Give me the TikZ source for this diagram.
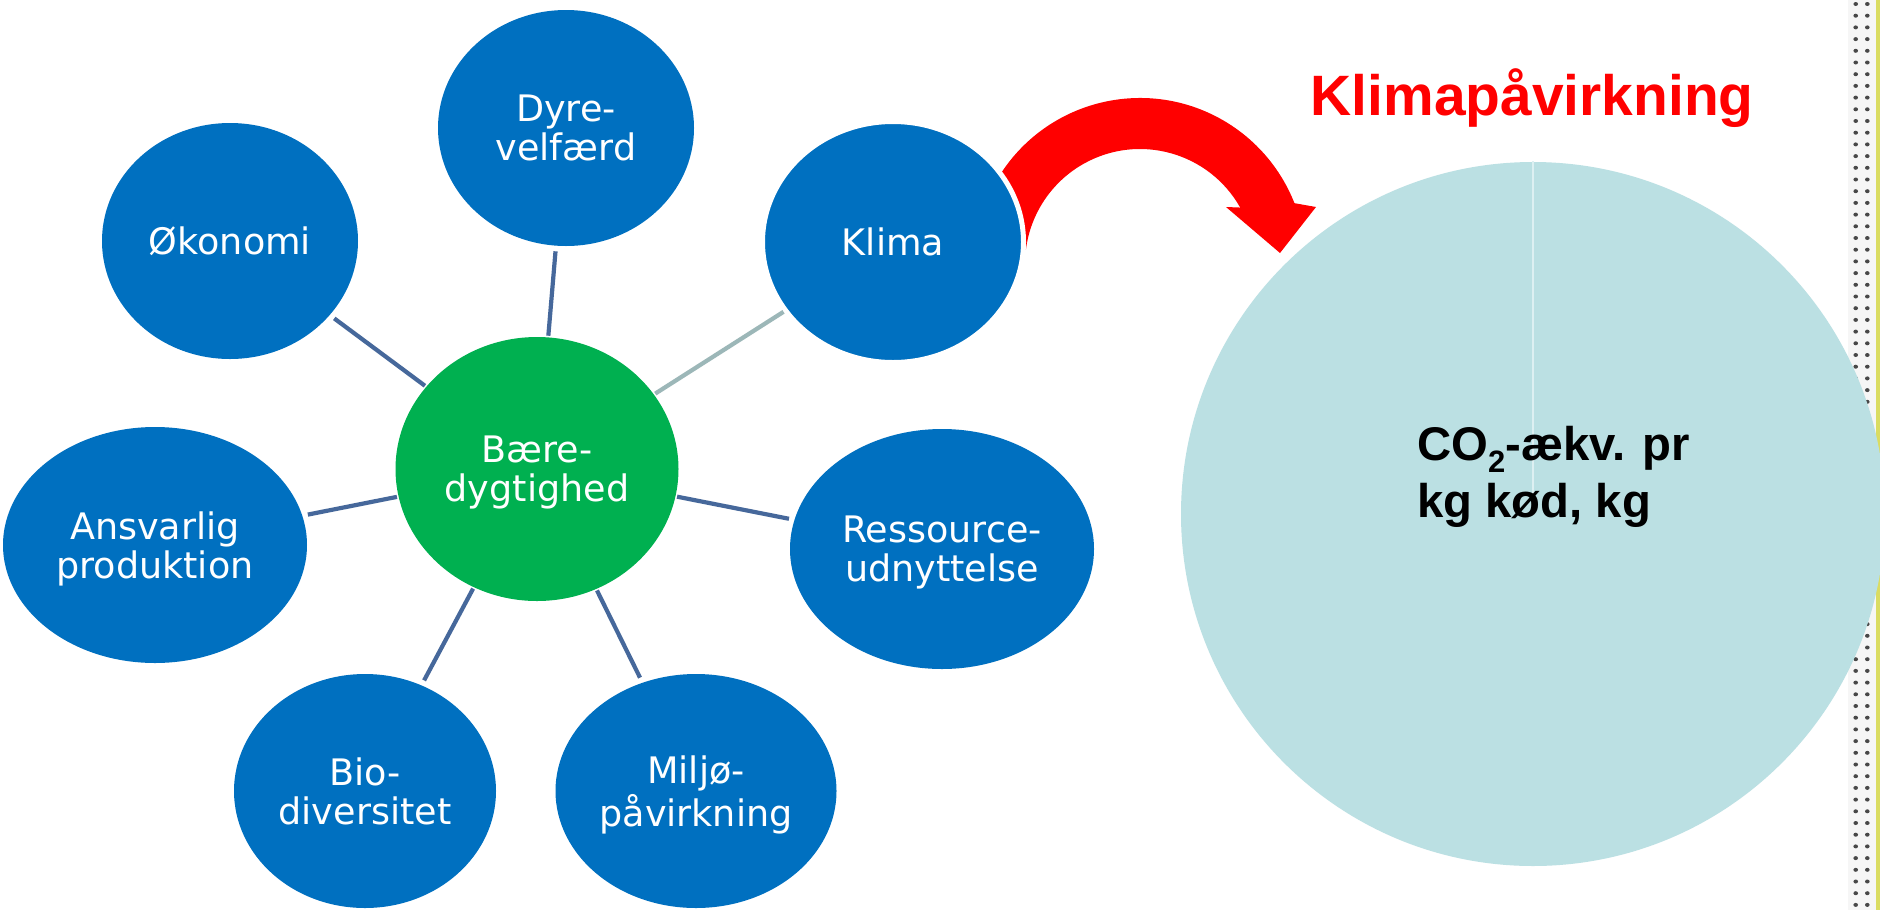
\documentclass[tikz,border=0pt]{standalone}
\usepackage{fontspec}
\setmainfont{DejaVu Sans}
\newfontfamily\arialf{Liberation Sans}
\usetikzlibrary{shapes.geometric}
\definecolor{bubbleblue}{HTML}{0070C0}
\definecolor{centgreen}{HTML}{00B050}
\definecolor{pielight}{HTML}{BBE0E3}
\definecolor{pieline}{HTML}{DDF0F2}
\definecolor{connblue}{HTML}{46689B}
\definecolor{klimaconn}{HTML}{9CB7B8}
\definecolor{arrowred}{HTML}{FF0000}
\definecolor{stripgray}{HTML}{F6F6F6}
\definecolor{stripyellow}{HTML}{DADC62}
\definecolor{dotgray}{HTML}{484848}
\begin{document}
\begin{tikzpicture}[x=0.1mm,y=0.1mm,
  bubble/.style={ellipse, fill=bubbleblue, text=white, inner sep=0pt,
    align=center, text depth=0pt, font=\fontsize{10.39pt}{11.1pt}\selectfont},
  conn/.style={line width=0.42mm, draw=connblue, shorten >=0.5mm, shorten <=0.1mm},
  boldtext/.style={inner sep=0pt, font=\arialf\bfseries}]
\useasboundingbox (0,0) rectangle (1880,910);
\fill[white] (0,0) rectangle (1880,910);
% right dotted strip
\fill[stripgray] (1848,0) rectangle (1876,910);
\fill[stripyellow] (1876,0) rectangle (1879.5,910);
\foreach \k in {0,...,77}{
  \fill[dotgray] (1855.7,{906-11.7*\k}) circle[x radius=2.3, y radius=2.0];
  \fill[dotgray] (1867.3,{906-11.7*\k}) circle[x radius=2.3, y radius=2.0];
}
% pie
\node[circle, fill=pielight, minimum size=70.4mm, inner sep=0pt] (pie) at (1533,396) {};
\draw[pieline, line width=0.12mm] (pie.center) -- (pie.north);
\node[boldtext, anchor=north west, align=left,
  font=\arialf\bfseries\fontsize{13.45pt}{16.2pt}\selectfont] (co2) at (1416.5,484)
  {CO\raisebox{-0.24em}{\fontsize{8.8pt}{9pt}\selectfont 2}-ækv. pr\\kg kød, kg};
\node[boldtext, anchor=base west, text=arrowred,
  font=\arialf\bfseries\fontsize{16.2pt}{19pt}\selectfont] (title) at (1310,795) {Klimapåvirkning};
% curved arrow
\fill[arrowred] ([shift={(1140,646)}]150:166) arc[start angle=150, end angle=21.5, radius=166]
  -- (1316,703) -- (1280,657) -- (1226,703)
  -- ([shift={(1140,646)}]29.4:115) arc[start angle=29.4, end angle=172.9, radius=115]
  -- (1000,665) -- cycle;
% bubbles
\node[bubble, fill=centgreen, minimum width=28.3mm, minimum height=26.4mm] (c) at (537,441) {Bære-\\dygtighed};
\node[bubble, minimum width=25.6mm, minimum height=23.6mm] (dyre) at (566,782) {Dyre-\\velfærd};
\node[bubble, minimum width=25.6mm, minimum height=23.6mm] (okon) at (230,669) {Økonomi};
\node[bubble, minimum width=26.1mm, minimum height=24.1mm, draw=white, line width=0.5mm] (klima) at (893,668) {Klima};
\node[bubble, minimum width=30.4mm, minimum height=23.6mm] (ansv) at (155,365) {Ansvarlig\\produktion};
\node[bubble, minimum width=30.4mm, minimum height=24.0mm] (ress) at (942,361) {Ressource-\\udnyttelse};
\node[bubble, minimum width=26.2mm, minimum height=23.4mm] (bio) at (365,119) {Bio-\\diversitet};
\node[bubble, minimum width=28.1mm, minimum height=23.4mm] (milj) at (696,119) {Miljø-\\påvirkning};
% connectors
\draw[conn] (c) -- (dyre);
\draw[conn] (c) -- (okon);
\draw[conn, draw=klimaconn, shorten >=0pt] (c) -- (klima);
\draw[conn] (c) -- (ansv);
\draw[conn] (c) -- (ress);
\draw[conn] (c) -- (bio);
\draw[conn] (c) -- (milj);
\end{tikzpicture}
\end{document}
